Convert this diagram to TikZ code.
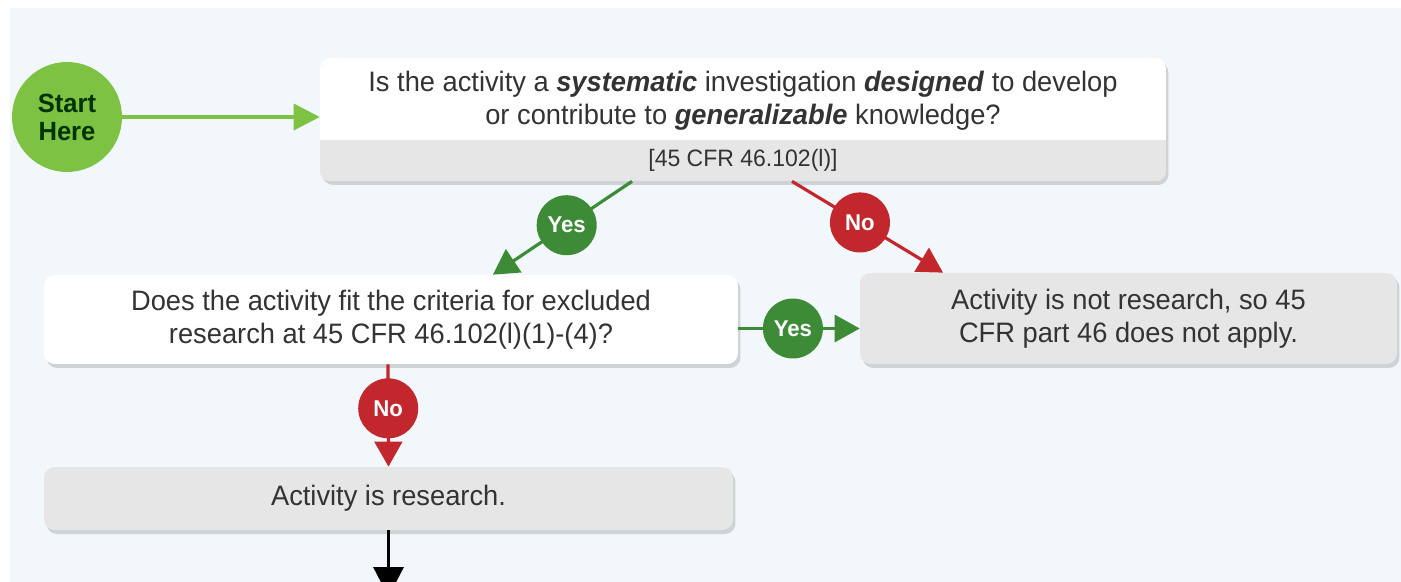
\documentclass[tikz,border=0pt]{standalone}
\usepackage{fontspec}
\setmainfont{Liberation Sans}[FakeStretch=0.97]
\usetikzlibrary{arrows.meta,shadows,positioning}

\definecolor{bgblue}{HTML}{F1F7FA}
\definecolor{startgreen}{HTML}{7DC242}
\definecolor{yesgreen}{HTML}{3D8B37}
\definecolor{nored}{HTML}{C1272D}
\definecolor{boxgray}{HTML}{E6E6E6}
\definecolor{txtgray}{HTML}{333333}

\tikzset{
  qbox/.style={rectangle, rounded corners=6pt, fill=white, inner sep=0pt,
    drop shadow={opacity=0.3, shadow xshift=0.05cm, shadow yshift=-0.08cm}},
  abox/.style={qbox, fill=boxgray},
  boxtext/.style={align=center, text=txtgray, font=\fontsize{16}{18.7}\selectfont},
  tag/.style={circle, text=white, inner sep=0pt, minimum size=1.2cm,
    font=\fontsize{13}{15}\selectfont\bfseries},
  yesline/.style={draw=yesgreen, line width=1.8pt, -{Triangle[length=0.5cm, width=0.55cm]}},
  noline/.style={draw=nored, line width=1.8pt, -{Triangle[length=0.5cm, width=0.55cm]}},
}

\begin{document}
\begin{tikzpicture}[x=0.02cm, y=-0.02cm]
    \clip (0,0) rectangle (1401,582);
    \fill[bgblue] (10,8) rectangle (1401,582);

    % start and first question
    \node[circle, fill=startgreen, minimum size=2.2cm, align=center, text=black!80!green,
      font=\fontsize{15}{16}\selectfont\bfseries] (start) at (67,117) {Start\\Here};
    \node[qbox, minimum width=16.92cm, minimum height=2.46cm] (q1) at (743,119.5) {};
    \begin{scope}
      \clip[rounded corners=6pt] (q1.south west) rectangle (q1.north east);
      \fill[boxgray] (q1.south west) rectangle ([yshift=0.82cm]q1.south east);
    \end{scope}
    \node[boxtext] (q1text) at (743,101) {Is the activity a \textbf{\textit{systematic}} investigation
      \textbf{\textit{designed}} to develop\\or contribute to \textbf{\textit{generalizable}} knowledge?};
    \node[boxtext, font=\fontsize{13.5}{15}\selectfont] (q1cite) at (743,160) {[45 CFR 46.102(l)]};

    % second question and outcomes
    \node[qbox, minimum width=13.88cm, minimum height=1.78cm, boxtext] (q2) at (391,319.5)
      {Does the activity fit the criteria for excluded\\research at 45 CFR 46.102(l)(1)-(4)?};
    \node[abox, minimum width=10.74cm, minimum height=1.82cm, boxtext] (notres) at (1128.5,318.5)
      {Activity is not research, so 45\\CFR part 46 does not apply.};
    \node[abox, minimum width=13.78cm, minimum height=1.26cm, boxtext] (isres) at (388.5,498.5)
      {Activity is research.};
    \coordinate (next) at (388.5,597);

    \draw[draw=startgreen, line width=2pt, -{Triangle[length=0.52cm, width=0.52cm]}]
      (start) -- (q1.west |- start);
    \draw[yesline] ([xshift=-2.22cm]q1.south) -- node[pos=0.47, tag, fill=yesgreen] {Yes}
      ([xshift=2.04cm]q2.north);
    \draw[noline] ([xshift=0.98cm]q1.south) -- node[pos=0.45, tag, fill=nored] {No}
      ([xshift=-3.71cm]notres.north);
    \draw[yesline, -{Triangle[length=0.5cm, width=0.54cm]}] ([yshift=-0.18cm]q2.east) --
      node[pos=0.45, tag, fill=yesgreen] {Yes} ([yshift=-0.18cm]notres.west |- q2.east);
    \draw[noline] ([xshift=-0.06cm]q2.south) -- node[pos=0.43, tag, fill=nored] {No}
      (isres.north);
    \draw[line width=1.8pt, -{Triangle[length=0.6cm, width=0.6cm]}] (isres.south) -- (next);
\end{tikzpicture}
\end{document}
